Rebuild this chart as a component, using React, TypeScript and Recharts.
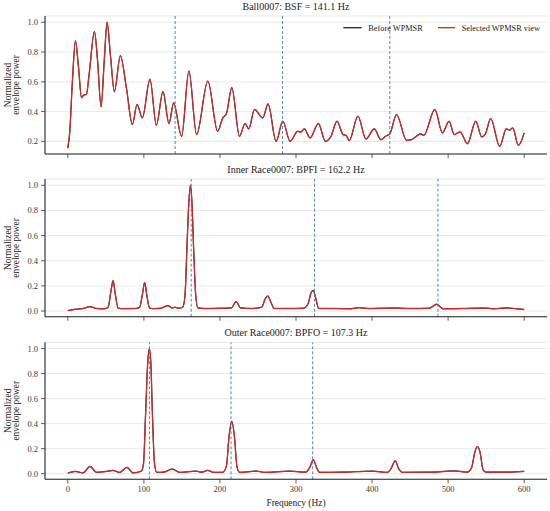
import React from 'react';
import { LineChart, Line, XAxis, YAxis, CartesianGrid, ReferenceLine } from 'recharts';

const SERIF = '"Liberation Serif", "Times New Roman", Times, serif';

const xTicks = [0, 100, 200, 300, 400, 500, 600];
const xDomain = [-30, 630];
const ballTicks = [0.2, 0.4, 0.6, 0.8, 1.0];
const normTicks = [0, 0.2, 0.4, 0.6, 0.8, 1.0];

const titles = [
  'Ball0007: BSF = 141.1 Hz',
  'Inner Race0007: BPFI = 162.2 Hz',
  'Outer Race0007: BPFO = 107.3 Hz',
];
const legendLabels = ['Before WPMSR', 'Selected WPMSR view'];
const xLabel = 'Frequency (Hz)';
const yLabelLines = ['Normalized', 'envelope power'];

// Ball0007
const ballFreq = [0, 2.5, 6, 10, 14, 18, 21, 24.5, 28, 35, 39, 43.7, 48, 51.6, 56, 61.2, 69.1, 77, 84.9, 91, 98, 108, 116.4, 125.1, 133, 139.1, 149.6, 159.2, 169.3, 184.1, 196.9, 203.8, 208.5, 215.6, 225.7, 233.1, 237.9, 245.4, 256.3, 263.3, 273.8, 282.6, 292.3, 302.3, 306, 311, 318.5, 329.4, 338.6, 346, 353.9, 362, 366, 370, 381.4, 392, 402.9, 411.6, 418, 423.3, 432.2, 445.3, 451, 464.1, 468, 482.5, 492.5, 501.3, 508, 515.7, 525.4, 536.3, 544.2, 549, 556, 567.8, 576.5, 580.5, 585, 592.3, 600];
const ballSelected = [0.155, 0.26, 0.6, 0.876, 0.7, 0.493, 0.51, 0.515, 0.65, 0.937, 0.75, 0.432, 0.75, 1.0, 0.78, 0.534, 0.775, 0.56, 0.313, 0.448, 0.358, 0.617, 0.308, 0.534, 0.32, 0.455, 0.234, 0.673, 0.245, 0.605, 0.268, 0.358, 0.385, 0.561, 0.234, 0.32, 0.284, 0.414, 0.358, 0.452, 0.2, 0.335, 0.2, 0.268, 0.262, 0.284, 0.223, 0.32, 0.2, 0.234, 0.335, 0.245, 0.24, 0.205, 0.369, 0.216, 0.284, 0.211, 0.235, 0.25, 0.38, 0.207, 0.21, 0.25, 0.24, 0.414, 0.257, 0.335, 0.245, 0.263, 0.184, 0.335, 0.23, 0.25, 0.353, 0.166, 0.284, 0.275, 0.29, 0.173, 0.257];
const ballBefore = [0.155, 0.26, 0.6, 0.876, 0.7, 0.495, 0.512, 0.517, 0.65, 0.937, 0.75, 0.432, 0.75, 1.0, 0.78, 0.534, 0.775, 0.56, 0.313, 0.448, 0.358, 0.617, 0.308, 0.534, 0.32, 0.46, 0.234, 0.673, 0.245, 0.605, 0.268, 0.358, 0.385, 0.561, 0.234, 0.32, 0.284, 0.414, 0.358, 0.452, 0.2, 0.335, 0.2, 0.268, 0.262, 0.284, 0.223, 0.32, 0.2, 0.234, 0.335, 0.245, 0.24, 0.205, 0.369, 0.216, 0.284, 0.211, 0.235, 0.25, 0.38, 0.207, 0.21, 0.25, 0.24, 0.414, 0.257, 0.335, 0.245, 0.263, 0.184, 0.335, 0.23, 0.25, 0.353, 0.166, 0.284, 0.275, 0.29, 0.173, 0.257];
const ballRefs = [141.1, 282.2, 423.3];

// Inner Race0007
const innerFreq = [0, 10, 20, 28.9, 38, 48, 53, 56.5, 59.5, 62.5, 66, 70, 90, 94.5, 98, 101, 104, 107.5, 112, 122, 131.7, 137, 141, 146, 151, 154, 156.6, 159, 161.2, 163.3, 165.4, 168, 171, 180, 200, 215, 221.4, 227, 240, 255, 259, 262.9, 267, 271.6, 290, 310, 316, 319.5, 322.8, 326, 330, 350, 370, 383, 395, 427, 450, 475, 485.1, 493, 520, 547, 560, 577, 590, 600];
const innerSelected = [0.003, 0.014, 0.02, 0.035, 0.02, 0.018, 0.03, 0.15, 0.242, 0.13, 0.025, 0.019, 0.02, 0.03, 0.13, 0.226, 0.12, 0.025, 0.019, 0.022, 0.043, 0.025, 0.03, 0.022, 0.03, 0.12, 0.5, 0.85, 1.0, 0.85, 0.5, 0.14, 0.025, 0.02, 0.022, 0.025, 0.075, 0.025, 0.02, 0.03, 0.09, 0.12, 0.07, 0.02, 0.02, 0.022, 0.06, 0.14, 0.162, 0.1, 0.02, 0.02, 0.018, 0.027, 0.02, 0.024, 0.02, 0.022, 0.053, 0.018, 0.02, 0.024, 0.018, 0.025, 0.018, 0.012];
const innerBefore = [0.003, 0.014, 0.02, 0.035, 0.02, 0.018, 0.03, 0.15, 0.242, 0.13, 0.025, 0.019, 0.02, 0.03, 0.13, 0.226, 0.12, 0.025, 0.019, 0.022, 0.043, 0.025, 0.03, 0.022, 0.03, 0.12, 0.5, 0.85, 1.0, 0.85, 0.5, 0.14, 0.025, 0.02, 0.022, 0.025, 0.075, 0.025, 0.02, 0.03, 0.09, 0.12, 0.07, 0.02, 0.02, 0.022, 0.06, 0.14, 0.165, 0.1, 0.02, 0.02, 0.018, 0.027, 0.02, 0.024, 0.02, 0.022, 0.055, 0.018, 0.02, 0.024, 0.018, 0.025, 0.018, 0.012];
const innerRefs = [162.2, 324.4, 486.6];

// Outer Race0007
const outerFreq = [0, 10, 20, 29.3, 37.6, 50.8, 59.5, 68, 77.8, 85.7, 96.6, 99.5, 102.4, 105, 107.2, 109.2, 111.1, 114, 117, 126, 137.4, 147, 168.6, 176, 183.7, 192, 203.3, 208.5, 212, 215.6, 219, 222.5, 226, 247.6, 260, 291.5, 313, 318, 322.8, 327, 331, 360, 400.5, 420, 425, 430.4, 435, 440, 480, 507.9, 525, 531, 535, 538.5, 542, 546, 550, 580, 600];
const outerSelected = [0.005, 0.018, 0.006, 0.058, 0.01, 0.018, 0.026, 0.01, 0.05, 0.006, 0.02, 0.08, 0.5, 0.88, 1.0, 0.88, 0.5, 0.08, 0.01, 0.012, 0.037, 0.01, 0.02, 0.012, 0.026, 0.01, 0.01, 0.06, 0.3, 0.416, 0.3, 0.05, 0.01, 0.02, 0.01, 0.02, 0.012, 0.05, 0.111, 0.05, 0.01, 0.012, 0.02, 0.01, 0.04, 0.103, 0.04, 0.01, 0.012, 0.022, 0.012, 0.05, 0.17, 0.217, 0.17, 0.03, 0.012, 0.012, 0.018];
const outerBefore = [0.005, 0.018, 0.006, 0.058, 0.01, 0.018, 0.026, 0.01, 0.05, 0.006, 0.02, 0.08, 0.5, 0.88, 1.0, 0.88, 0.5, 0.08, 0.01, 0.012, 0.037, 0.01, 0.02, 0.012, 0.026, 0.01, 0.01, 0.06, 0.3, 0.42, 0.3, 0.05, 0.01, 0.02, 0.01, 0.02, 0.012, 0.05, 0.111, 0.05, 0.01, 0.012, 0.02, 0.01, 0.04, 0.103, 0.04, 0.01, 0.012, 0.022, 0.012, 0.05, 0.17, 0.217, 0.17, 0.03, 0.012, 0.012, 0.018];
const outerRefs = [107.3, 214.6, 321.9];

type Row = { f: number; before: number; selected: number };
function buildRows(freq: number[], before: number[], selected: number[]): Row[] {
  return freq.map((f, i) => ({ f, before: before[i], selected: selected[i] }));
}

const ballRows = buildRows(ballFreq, ballBefore, ballSelected);
const innerRows = buildRows(innerFreq, innerBefore, innerSelected);
const outerRows = buildRows(outerFreq, outerBefore, outerSelected);

const RED = '#c62d2d';
const DARK = '#222222';
const REF = '#4a78a8';

type PanelProps = {
  rows: Row[];
  refs: number[];
  yDomain: number[];
  yTicks: number[];
  top: number;
  height: number;
  marginTop: number;
  xAxisHeight: number;
  showXLabels: boolean;
};

const EmptyTick = () => <g />;

function Panel({ rows, refs, yDomain, yTicks, top, height, marginTop, xAxisHeight, showXLabels }: PanelProps) {
  const axisLine = { stroke: DARK, strokeWidth: 1.1 };
  const tickLine = { stroke: '#333', strokeWidth: 0.8 };
  const tickStyle = { fill: '#3a3a3a', fontSize: 8.5, fontFamily: SERIF };
  return (
    <div style={{ position: 'absolute', left: 0, top, width: 550, height }}>
      <LineChart width={550} height={height} data={rows} margin={{ top: marginTop, right: 3, bottom: 0, left: 0 }}>
        <CartesianGrid vertical={false} stroke="#e3e3e3" strokeWidth={0.8} />
        <XAxis
          dataKey="f"
          type="number"
          domain={xDomain}
          ticks={xTicks}
          allowDataOverflow
          interval={0}
          height={xAxisHeight}
          tickSize={4}
          tickMargin={3}
          tickLine={tickLine}
          axisLine={axisLine}
          tick={showXLabels ? tickStyle : EmptyTick}
        />
        <XAxis xAxisId="top" orientation="top" type="number" domain={xDomain} height={0} tick={false} tickLine={false} axisLine={axisLine} />
        <YAxis
          type="number"
          domain={yDomain}
          ticks={yTicks}
          allowDataOverflow
          interval={0}
          width={45}
          tickSize={4}
          tickMargin={3}
          tickLine={tickLine}
          axisLine={axisLine}
          tick={tickStyle}
          tickFormatter={(v: number) => v.toFixed(1)}
        />
        <YAxis yAxisId="right" orientation="right" type="number" domain={[0, 1]} width={0} tick={false} tickLine={false} axisLine={axisLine} />
        <Line dataKey="before" type="monotone" stroke={DARK} strokeWidth={1.1} dot={false} isAnimationActive={false} />
        <Line dataKey="selected" type="monotone" stroke={RED} strokeWidth={1.35} dot={false} isAnimationActive={false} />
        {refs.map((r) => (
          <ReferenceLine key={r} x={r} stroke={REF} strokeDasharray="3 2" strokeWidth={0.9} />
        ))}
      </LineChart>
    </div>
  );
}

const yLabelCenters = [85, 247.9, 410.8];
const titleBaselines = [10.3, 172.8, 336];

export default function App() {
  return (
    <div style={{ position: 'absolute', left: 0, top: 0, width: 550, height: 511, background: '#fff', overflow: 'hidden' }}>
      <Panel rows={ballRows} refs={ballRefs} yDomain={[0.115, 1.042]} yTicks={ballTicks} top={0} height={170} marginTop={16} xAxisHeight={16} showXLabels={false} />
      <Panel rows={innerRows} refs={innerRefs} yDomain={[-0.045, 1.05]} yTicks={normTicks} top={160} height={172} marginTop={19} xAxisHeight={15.3} showXLabels={false} />
      <Panel rows={outerRows} refs={outerRefs} yDomain={[-0.045, 1.05]} yTicks={normTicks} top={330} height={181} marginTop={12.3} xAxisHeight={31.7} showXLabels={true} />
      <svg width={550} height={511} style={{ position: 'absolute', left: 0, top: 0, pointerEvents: 'none' }}>
        {titles.map((t, i) => (
          <text key={t} x={296} y={titleBaselines[i]} textAnchor="middle" fontFamily={SERIF} fontSize={10} fill="#222">
            {t}
          </text>
        ))}
        {yLabelCenters.map((cy) => (
          <text key={cy} transform={`translate(0,${cy}) rotate(-90)`} textAnchor="middle" fontFamily={SERIF} fontSize={9.4} fill="#222">
            <tspan x={0} y={11.3}>{yLabelLines[0]}</tspan>
            <tspan x={0} y={19.3}>{yLabelLines[1]}</tspan>
          </text>
        ))}
        <text x={296} y={506} textAnchor="middle" fontFamily={SERIF} fontSize={9.4} fill="#222">
          {xLabel}
        </text>
        <line x1={343.3} x2={361.7} y1={27.7} y2={27.7} stroke={DARK} strokeWidth={1.3} />
        <text x={368.3} y={30.5} fontFamily={SERIF} fontSize={8.3} fill="#222">{legendLabels[0]}</text>
        <line x1={438} x2={455} y1={27.7} y2={27.7} stroke={RED} strokeWidth={1.3} />
        <text x={461.7} y={30.5} fontFamily={SERIF} fontSize={8.3} fill="#222">{legendLabels[1]}</text>
      </svg>
    </div>
  );
}
